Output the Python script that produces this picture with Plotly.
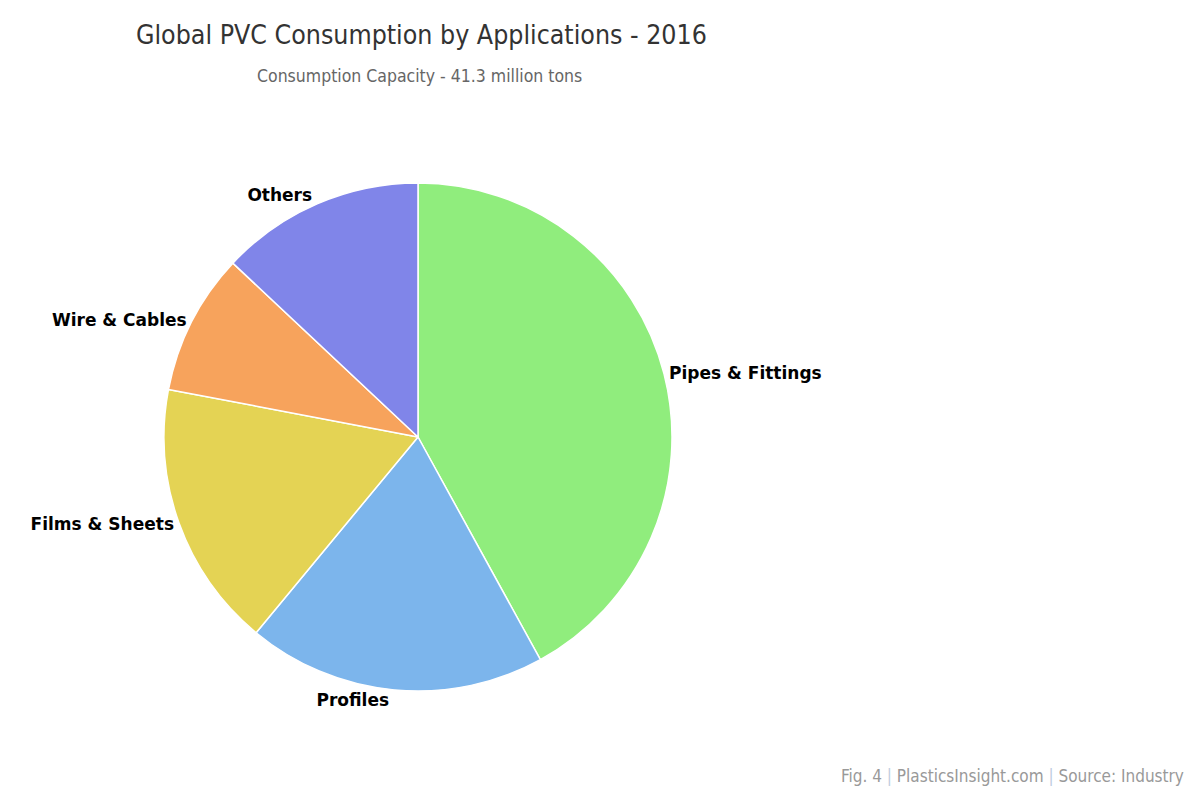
import plotly.graph_objects as go

# data ---------------------------------------------------------------
categories = ["Pipes & Fittings", "Profiles", "Films & Sheets", "Wire & Cables", "Others"]
shares = [42, 19, 17, 9, 13]
slice_colors = ["#90ed7d", "#7cb5ec", "#e4d354", "#f7a35c", "#8085e9"]

title_text = "Global PVC Consumption by Applications - 2016"
subtitle_text = "Consumption Capacity - 41.3 million tons"
credit_text = ("Fig. 4 <span style='color:#c0cde0'>|</span> PlasticsInsight.com "
               "<span style='color:#c0cde0'>|</span> Source: Industry")

W, H = 1200, 800
cx, cy, r = 410, 429, 254   # pie centre / radius in px

trace = go.Pie(
    labels=categories,
    values=shares,
    sort=False,
    direction="clockwise",
    rotation=0,
    marker=dict(colors=slice_colors, line=dict(color="white", width=1.5)),
    textinfo="label",
    texttemplate="<b>%{label}</b>",
    textposition="outside",
    outsidetextfont=dict(family="DejaVu Sans", size=17, color="#000000"),
    hoverinfo="label+percent",
    showlegend=False,
    domain=dict(x=[(cx - r) / W, (cx + r) / W],
                y=[(H - cy - r) / H, (H - cy + r) / H]),
)

layout = go.Layout(
    width=W, height=H,
    margin=dict(l=0, r=0, t=0, b=0),
    paper_bgcolor="white",
    plot_bgcolor="white",
    annotations=[
        dict(text=title_text, x=413 / W, y=1 - 27 / H, xref="paper", yref="paper",
             showarrow=False, xanchor="center", yanchor="middle",
             font=dict(family="DejaVu Sans Condensed", size=26.5, color="#333333")),
        dict(text=subtitle_text, x=411 / W, y=1 - 68 / H, xref="paper", yref="paper",
             showarrow=False, xanchor="center", yanchor="middle",
             font=dict(family="DejaVu Sans Condensed", size=17.5, color="#666666")),
        dict(text=credit_text, x=1178 / W, y=1 - 768 / H, xref="paper", yref="paper",
             showarrow=False, xanchor="right", yanchor="middle",
             font=dict(family="DejaVu Sans Condensed", size=17, color="#999999")),
    ],
)

fig = go.Figure([trace], layout)
fig.write_html("out.html")
